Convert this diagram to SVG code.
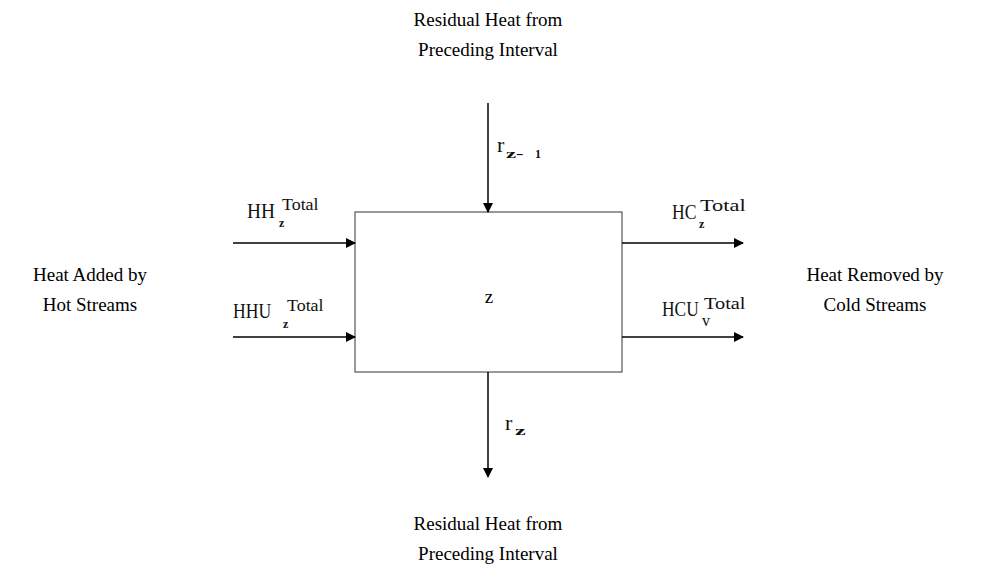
<svg xmlns="http://www.w3.org/2000/svg" width="982" height="577" viewBox="0 0 982 577">
<style>
.t{font-family:"Liberation Serif","Times New Roman",serif;font-size:19px;fill:#000}
.m{font-family:"Liberation Serif","Times New Roman",serif;font-size:22px;fill:#111}
.s{font-family:"Liberation Serif","Times New Roman",serif;font-size:16px;fill:#111}
.b{font-family:"Liberation Serif","Times New Roman",serif;font-size:12px;font-weight:bold;fill:#111}
.c{stroke:#000;stroke-width:1.5;fill:none}
</style>
<defs>
<marker id="ah" markerWidth="10" markerHeight="10" refX="9" refY="5" orient="auto" markerUnits="userSpaceOnUse">
<path d="M0,0 L10,5 L0,10 Z" fill="#000"/>
</marker>
</defs>
<rect width="982" height="577" fill="#fff"/>
<g id="box">
<rect x="355" y="212" width="267" height="160" fill="#fff" stroke="#555" stroke-width="1.2"/>
<text class="t" x="489" y="303" text-anchor="middle" font-size="17">z</text>
</g>
<g id="connectors">
<line class="c" x1="233" y1="243" x2="355" y2="243" marker-end="url(#ah)"/>
<line class="c" x1="233" y1="337" x2="355" y2="337" marker-end="url(#ah)"/>
<line class="c" x1="622" y1="243" x2="743" y2="243" marker-end="url(#ah)"/>
<line class="c" x1="622" y1="337" x2="743" y2="337" marker-end="url(#ah)"/>
<line class="c" x1="488" y1="103" x2="488" y2="212" marker-end="url(#ah)"/>
<line class="c" x1="488" y1="372" x2="488" y2="477" marker-end="url(#ah)"/>
</g>
<g id="labels">
<text class="m" transform="translate(247,218) scale(0.88,1)">HH</text>
<text class="b" x="279" y="227">z</text>
<text class="s" transform="translate(282,210) scale(1.12,1)">Total</text>

<text class="m" transform="translate(233,318) scale(0.8,1)">HHU</text>
<text class="b" x="283" y="328">z</text>
<text class="s" transform="translate(287,311) scale(1.12,1)">Total</text>

<text class="m" transform="translate(672,219) scale(0.8,1)">HC</text>
<text class="b" x="699" y="228">z</text>
<text class="s" transform="translate(700,211) scale(1.4,1)">Total</text>

<text class="m" transform="translate(662,316) scale(0.79,1)">HCU</text>
<text class="s" x="702" y="326" font-size="11">v</text>
<text class="s" transform="translate(704,309) scale(1.27,1)">Total</text>

<text class="m" x="497" y="152">r</text>
<text class="b" transform="translate(506,158) scale(1.9,1)">z-</text>
<text class="b" x="535" y="158">1</text>

<text class="m" x="505" y="430">r</text>
<text class="b" transform="translate(515,435) scale(2,1)">z</text>
</g>
<g id="top">
<text class="t" x="488" y="26" text-anchor="middle">Residual Heat from</text>
<text class="t" x="488" y="56" text-anchor="middle">Preceding Interval</text>
</g>
<g id="left">
<text class="t" x="90" y="281" text-anchor="middle">Heat Added by</text>
<text class="t" x="90" y="311" text-anchor="middle">Hot Streams</text>
</g>
<g id="right">
<text class="t" x="875" y="281" text-anchor="middle">Heat Removed by</text>
<text class="t" x="875" y="311" text-anchor="middle">Cold Streams</text>
</g>
<g id="bottom">
<text class="t" x="488" y="530" text-anchor="middle">Residual Heat from</text>
<text class="t" x="488" y="560" text-anchor="middle">Preceding Interval</text>
</g>
</svg>
